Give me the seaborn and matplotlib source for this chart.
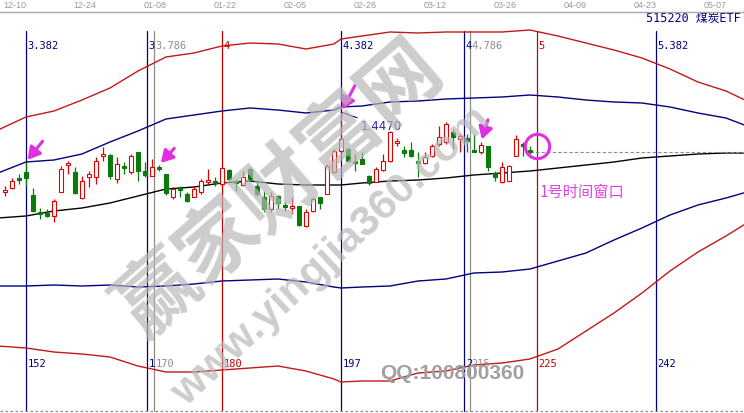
import matplotlib
matplotlib.use("Agg")
import matplotlib.pyplot as plt
import matplotlib.transforms as mtransforms
import numpy as np
import pandas as pd
import seaborn as sns

# ---------------- data ----------------
bars = list(range(149, 225))
opens = [1.367, 1.371, 1.381, 1.387, 1.364, 1.347, 1.346, 1.343, 1.367, 1.394,
         1.387, 1.361, 1.382, 1.382, 1.403, 1.404, 1.380, 1.393, 1.387, 1.407,
         1.388, 1.383, 1.392, 1.385, 1.362, 1.371, 1.365, 1.362, 1.367, 1.377,
         1.378, 1.375, 1.389, 1.378, 1.374, 1.390, 1.373, 1.362, 1.350, 1.363,
         1.354, 1.351, 1.353, 1.333, 1.348, 1.362, 1.365, 1.387, 1.408, 1.410,
         1.398, 1.400, 1.383, 1.377, 1.389, 1.398, 1.416, 1.409, 1.409, 1.398,
         1.396, 1.403, 1.415, 1.417, 1.427, 1.420, 1.421, 1.409, 1.407, 1.413,
         1.386, 1.377, 1.378, 1.403, 1.415, 1.409]
highs = [1.373, 1.381, 1.385, 1.397, 1.371, 1.351, 1.350, 1.360, 1.393, 1.398,
         1.392, 1.383, 1.388, 1.402, 1.412, 1.405, 1.402, 1.397, 1.405, 1.407,
         1.397, 1.400, 1.394, 1.385, 1.372, 1.373, 1.367, 1.373, 1.380, 1.390,
         1.382, 1.392, 1.390, 1.380, 1.388, 1.392, 1.377, 1.368, 1.367, 1.364,
         1.357, 1.362, 1.353, 1.350, 1.362, 1.362, 1.395, 1.410, 1.447, 1.412,
         1.405, 1.407, 1.384, 1.392, 1.405, 1.428, 1.421, 1.413, 1.417, 1.407,
         1.407, 1.415, 1.433, 1.437, 1.430, 1.425, 1.425, 1.425, 1.417, 1.413,
         1.388, 1.397, 1.394, 1.424, 1.417, 1.413]
lows = [1.363, 1.370, 1.375, 1.373, 1.347, 1.340, 1.342, 1.337, 1.367, 1.385,
        1.365, 1.360, 1.372, 1.375, 1.398, 1.380, 1.376, 1.385, 1.385, 1.378,
        1.382, 1.383, 1.388, 1.364, 1.360, 1.362, 1.357, 1.362, 1.365, 1.375,
        1.373, 1.373, 1.378, 1.368, 1.373, 1.378, 1.363, 1.347, 1.347, 1.350,
        1.348, 1.345, 1.333, 1.332, 1.347, 1.350, 1.365, 1.386, 1.403, 1.397,
        1.388, 1.395, 1.374, 1.377, 1.388, 1.397, 1.413, 1.402, 1.402, 1.382,
        1.395, 1.402, 1.413, 1.415, 1.410, 1.407, 1.407, 1.407, 1.405, 1.388,
        1.378, 1.376, 1.378, 1.403, 1.403, 1.405]
closes = [1.369, 1.378, 1.379, 1.381, 1.348, 1.345, 1.343, 1.358, 1.390, 1.396,
          1.366, 1.378, 1.385, 1.398, 1.405, 1.383, 1.395, 1.391, 1.403, 1.388,
          1.384, 1.392, 1.390, 1.366, 1.370, 1.369, 1.358, 1.370, 1.378, 1.379,
          1.376, 1.391, 1.380, 1.376, 1.382, 1.380, 1.365, 1.350, 1.363, 1.356,
          1.352, 1.353, 1.334, 1.347, 1.360, 1.356, 1.393, 1.408, 1.420, 1.398,
          1.396, 1.395, 1.376, 1.390, 1.398, 1.427, 1.418, 1.406, 1.403, 1.396,
          1.402, 1.413, 1.422, 1.435, 1.422, 1.423, 1.418, 1.407, 1.414, 1.392,
          1.382, 1.392, 1.393, 1.420, 1.413, 1.407]

band_bars = [148, 152, 156, 160, 164, 168, 172, 176, 180, 184, 188, 192, 196, 197,
             200, 204, 208, 212, 216, 220, 224, 228, 232, 236, 240, 244, 248, 252, 255]
upper_outer = [1.429, 1.442, 1.448, 1.459, 1.471, 1.488, 1.502, 1.506, 1.513, 1.516,
               1.515, 1.510, 1.515, 1.520, 1.523, 1.527, 1.526, 1.527, 1.527, 1.527,
               1.529, 1.523, 1.516, 1.509, 1.501, 1.490, 1.477, 1.468, 1.458]
upper_inner = [1.386, 1.397, 1.399, 1.405, 1.417, 1.428, 1.440, 1.444, 1.448, 1.451,
               1.449, 1.446, 1.449, 1.452, 1.453, 1.457, 1.458, 1.460, 1.461, 1.462,
               1.464, 1.462, 1.459, 1.457, 1.456, 1.452, 1.446, 1.441, 1.433]
mid_line = [1.341, 1.343, 1.348, 1.351, 1.356, 1.363, 1.370, 1.372, 1.376, 1.378,
            1.375, 1.374, 1.374, 1.374, 1.376, 1.378, 1.379, 1.381, 1.384, 1.386,
            1.388, 1.391, 1.394, 1.397, 1.401, 1.403, 1.405, 1.406, 1.406]
lower_inner = [1.273, 1.273, 1.274, 1.273, 1.274, 1.272, 1.273, 1.275, 1.278, 1.279,
               1.280, 1.277, 1.272, 1.271, 1.272, 1.273, 1.278, 1.280, 1.286, 1.287,
               1.290, 1.298, 1.306, 1.319, 1.331, 1.344, 1.354, 1.361, 1.367]
lower_outer = [1.213, 1.211, 1.207, 1.205, 1.202, 1.193, 1.187, 1.187, 1.189, 1.191,
               1.193, 1.188, 1.180, 1.177, 1.178, 1.178, 1.186, 1.188, 1.194, 1.196,
               1.200, 1.210, 1.228, 1.246, 1.266, 1.288, 1.307, 1.323, 1.336]

vline_pos = [152, 169.3, 170.3, 180, 197, 214.6, 215.4, 225, 242]
vline_kind = ["blue", "blue", "gray", "red", "blue", "blue", "gray", "red", "blue"]
top_labels = ["3.382", "3", "3.786", "4", "4.382", "4", "4.786", "5", "5.382"]
bottom_labels = ["152", "1", "170", "180", "197", "2", "215", "225", "242"]

date_bars = [150, 160, 170, 180, 190, 200, 210, 220, 230, 240, 250]
date_labels = ["12-10", "12-24", "01-08", "01-22", "02-05", "02-26",
               "03-12", "03-26", "04-09", "04-23", "05-07"]

arrow_bars = [152, 171, 197, 217]
title = "515220 煤炭ETF"
window_label = "1号时间窗口"

# ---------------- style ----------------
sns.set_theme(style="white")
plt.rcParams["font.family"] = ["DejaVu Sans", "Noto Sans CJK SC"]

NAVY = "#000080"
RED = "#c80000"
GRAY = "#8c8c8c"
GREEN = "#0a7a0a"
MAG = "#e22ee2"
kind_color = {"blue": NAVY, "gray": GRAY, "red": RED}

W, H = 744, 414
fig = plt.figure(figsize=(W / 100, H / 100), dpi=100)
ax = fig.add_axes([0, 0, 1, 1])
x0 = 148.29
ax.set_xlim(x0, x0 + W / 7)
ax.set_ylim(1.560 - H / 1000, 1.560)
ax.axis("off")
bt = mtransforms.blended_transform_factory(ax.transData, ax.transAxes)

def fy(py):
    return 1 - py / H

# bands via seaborn
bands = pd.DataFrame({"bar": band_bars, "uo": upper_outer, "ui": upper_inner,
                      "mid": mid_line, "li": lower_inner, "lo": lower_outer})
long = bands.melt(id_vars="bar", var_name="band", value_name="price")
sns.lineplot(data=long, x="bar", y="price", hue="band",
             palette={"uo": "#c41818", "ui": NAVY, "mid": "black",
                      "li": NAVY, "lo": "#c41818"},
             linewidth=1.0, legend=False, ax=ax, zorder=3)
ax.axis("off")

# vertical lines and labels
for pos, kind, tl, bl in zip(vline_pos, vline_kind, top_labels, bottom_labels):
    c = kind_color[kind]
    ax.axvline(pos, ymin=fy(412), ymax=fy(32), color=c, lw=0.9, zorder=2)
    ax.text(pos + 0.25, fy(46), tl, color=c, fontsize=7.5, family="DejaVu Sans Mono",
            ha="left", va="center", transform=bt, zorder=6)
    ax.text(pos + 0.25, fy(364), bl, color=c, fontsize=7.5, family="DejaVu Sans Mono",
            ha="left", va="center", transform=bt, zorder=6)

# candles
for b, o, h, l, c in zip(bars, opens, highs, lows, closes):
    up = c >= o
    col = "#e00000" if up else GREEN
    ax.vlines(b, l, h, color=col, lw=0.9, zorder=4)
    lo_, hi_ = min(o, c), max(o, c)
    ax.bar(b, max(hi_ - lo_, 0.0012), bottom=lo_, width=0.7,
           facecolor="white" if up else GREEN, edgecolor=col, linewidth=0.8, zorder=5)

# header strip
ax.axhline(1.560 - 0.013, color="#a8a8a8", lw=1.0, zorder=6)
for db, dl in zip(date_bars, date_labels):
    ax.text(db + 0.4, fy(6), dl, color="#9a9a9a", fontsize=6.5, ha="center", va="center",
            transform=bt, family="Liberation Sans")
ax.text(0.996, fy(18.5), title, color=NAVY, fontsize=8.5, ha="right", va="center",
        transform=ax.transAxes, family=["DejaVu Sans Mono", "Noto Sans CJK SC"])
ax.axhline(1.560 - 0.412, color="#8c8c8c", lw=0.9, ls=(0, (2, 2)), zorder=6)

# arrows
offsets = [(12, 15), (11, 12), (10, 19), (5, 16)]
for ab, off in zip(arrow_bars, offsets):
    k = bars.index(ab)
    ax.annotate("", xy=(ab, highs[k]), xytext=off, textcoords="offset points",
                arrowprops=dict(arrowstyle="-|>,head_length=0.6,head_width=0.35",
                                color=MAG, lw=2.2, shrinkA=0, shrinkB=2), zorder=8)

# high label
k = bars.index(197)
ax.annotate(f"{highs[k]:.4f}", xy=(197, highs[k]), xytext=(14, -5), textcoords="offset points",
            color="#2a2aa0", fontsize=8.5, ha="left", va="top",
            arrowprops=dict(arrowstyle="-", color=NAVY, lw=0.8, shrinkA=0, shrinkB=0,
                            relpos=(0, 1)), zorder=7)

# window marks
ax.hlines(closes[-1], bars[-1], x0 + W / 7, color="#8c8c8c", lw=0.8, ls=(0, (3, 2)), zorder=4)
ax.plot([225], [highs[-1]], "o", ms=17.5, mfc="none", mec=MAG, mew=2.2, zorder=8)
ax.text(225.4, fy(192), window_label, color="#dd44dd", fontsize=11, ha="left", va="center",
        transform=bt, family=["Noto Sans CJK SC", "DejaVu Sans"], zorder=8)

# watermarks
ax.text(280 / W, fy(190), "赢家财富网", rotation=41, rotation_mode="anchor",
        fontsize=58, fontweight="bold", color="#b8b8b8", alpha=0.7,
        ha="center", va="center", transform=ax.transAxes,
        family=["Noto Sans CJK SC"], zorder=9)
ax.text(332 / W, fy(257), "www.yingjia360.com", rotation=43, rotation_mode="anchor",
        fontsize=31, fontweight="bold", color="#b8b8b8", alpha=0.7,
        ha="center", va="center", transform=ax.transAxes,
        family=["Liberation Sans"], zorder=9)
ax.text(452 / W, fy(374), "QQ:100800360", fontsize=15, fontweight="bold",
        color="#a0a0a0", ha="center", va="center", transform=ax.transAxes,
        family=["Liberation Sans"], zorder=9)

fig.savefig("out.png", dpi=100, facecolor="white")
